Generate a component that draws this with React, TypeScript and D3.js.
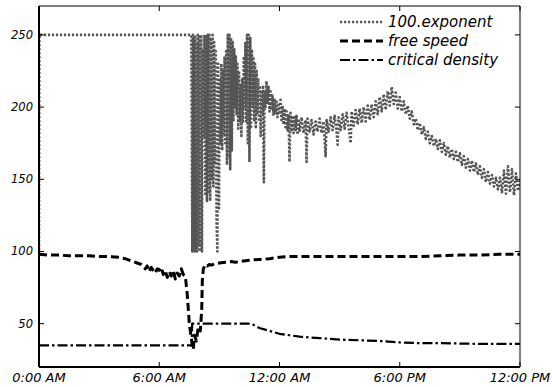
import React from "react";
import * as d3 from "d3";

const xTicks = [0, 6, 12, 18, 24];
const xTickLabels = ["0:00 AM", "6:00 AM", "12:00 AM", "6:00 PM", "12:00 PM"];
const yTicks = [50, 100, 150, 200, 250];
const seriesNames = ["100.exponent", "free speed", "critical density"];

// 100.exponent : [hour, value]
const exponentData: [number, number][] = [
  [0, 98], [0.02, 250], [7.6, 250],
  [7.65, 100], [7.68, 250], [7.71, 105], [7.74, 248], [7.77, 100], [7.8, 250], [7.83, 102], [7.86, 245],
  [7.89, 100], [7.92, 250], [7.95, 104], [7.98, 250], [8.01, 100], [8.04, 247], [8.07, 103], [8.1, 250],
  [8.13, 100], [8.16, 240], [8.22, 180], [8.26, 250], [8.3, 140], [8.34, 250], [8.38, 135],
  [8.42, 250], [8.46, 140], [8.5, 250], [8.54, 135], [8.58, 248], [8.62, 150], [8.66, 250], [8.7, 145],
  [8.74, 245], [8.78, 160], [8.82, 240], [8.86, 120], [8.9, 100], [8.94, 230], [8.98, 130],
  [9.02, 220], [9.06, 175], [9.1, 230], [9.14, 170], [9.18, 225], [9.22, 180], [9.26, 235], [9.3, 175],
  [9.34, 240], [9.38, 160], [9.42, 250], [9.46, 165], [9.5, 250], [9.54, 157], [9.58, 248], [9.62, 170],
  [9.66, 245], [9.7, 190], [9.74, 240], [9.78, 200], [9.82, 235], [9.86, 195], [9.9, 230], [9.94, 185],
  [9.98, 225], [10.02, 190], [10.06, 215], [10.1, 180], [10.14, 220], [10.18, 190], [10.22, 235], [10.26, 200],
  [10.3, 245], [10.34, 190], [10.38, 250], [10.42, 175], [10.46, 250], [10.5, 162], [10.54, 248], [10.58, 185],
  [10.62, 240], [10.66, 200], [10.7, 235], [10.74, 190], [10.78, 230], [10.82, 185], [10.86, 225], [10.9, 195],
  [10.94, 220], [10.98, 190], [11.02, 215], [11.06, 180], [11.1, 210], [11.14, 195], [11.18, 215], [11.22, 148],
  [11.26, 210], [11.3, 200], [11.35, 218], [11.4, 203], [11.45, 214], [11.5, 197], [11.55, 211], [11.6, 198],
  [11.65, 208], [11.7, 194], [11.75, 206], [11.8, 196], [11.85, 205], [11.9, 193], [11.95, 203], [12.0, 195],
  [12.05, 205], [12.1, 191], [12.15, 201], [12.2, 188], [12.25, 199], [12.3, 186], [12.35, 197], [12.4, 184],
  [12.45, 195], [12.5, 162], [12.55, 196], [12.6, 183], [12.65, 194], [12.7, 182], [12.75, 193], [12.8, 184],
  [12.85, 194], [12.9, 181], [12.95, 192], [13.0, 183], [13.1, 193], [13.2, 182], [13.3, 191], [13.35, 162],
  [13.4, 192], [13.5, 183], [13.6, 191], [13.7, 181], [13.8, 190], [13.9, 183], [14.0, 192], [14.1, 182],
  [14.2, 190], [14.3, 166], [14.35, 191], [14.45, 183], [14.55, 193], [14.65, 184], [14.75, 194], [14.85, 183],
  [14.9, 174], [14.95, 193], [15.05, 184], [15.15, 195], [15.25, 185], [15.35, 196], [15.45, 186], [15.55, 175],
  [15.6, 197], [15.7, 187], [15.8, 198], [15.9, 188], [16.0, 199], [16.1, 189], [16.2, 200], [16.3, 190],
  [16.4, 201], [16.5, 191], [16.6, 202], [16.7, 193], [16.8, 204], [16.9, 195], [17.0, 207], [17.1, 197],
  [17.2, 209], [17.3, 198], [17.4, 211], [17.5, 201], [17.6, 214], [17.7, 202], [17.8, 210], [17.9, 199],
  [18.0, 207], [18.1, 197], [18.2, 204], [18.3, 195], [18.4, 201], [18.5, 192], [18.6, 197], [18.7, 188],
  [18.8, 192], [18.9, 184], [19.0, 189], [19.1, 181], [19.2, 186], [19.3, 178], [19.4, 183], [19.5, 175],
  [19.6, 180], [19.7, 173], [19.8, 178], [19.9, 171], [20.0, 177], [20.1, 169], [20.2, 175], [20.3, 167],
  [20.4, 173], [20.5, 165], [20.6, 171], [20.7, 164], [20.8, 169], [20.9, 162], [21.0, 168], [21.1, 160],
  [21.2, 166], [21.3, 158], [21.4, 164], [21.5, 156], [21.6, 163], [21.7, 155], [21.8, 161], [21.9, 153],
  [22.0, 159], [22.1, 151], [22.2, 157], [22.3, 148], [22.4, 155], [22.5, 147], [22.6, 153], [22.7, 145],
  [22.8, 151], [22.9, 143], [23.0, 151], [23.1, 141], [23.2, 156], [23.3, 140], [23.4, 159], [23.5, 141],
  [23.6, 157], [23.7, 139], [23.8, 154], [23.9, 142], [24.0, 150],
];

// free speed : [hour, value]
const freeSpeedData: [number, number][] = [
  [0, 98], [0.5, 97.5], [1, 97.5], [1.5, 97], [2, 97], [2.5, 97], [3, 96.5], [3.5, 96.5], [4, 96],
  [4.3, 95], [4.6, 93.5], [4.9, 92], [5.1, 91], [5.3, 88], [5.4, 90], [5.5, 86], [5.6, 89], [5.8, 85],
  [5.9, 88], [6.0, 87], [6.1, 89], [6.2, 84], [6.3, 87], [6.4, 82], [6.5, 86], [6.6, 83], [6.7, 87],
  [6.8, 81], [6.9, 85], [7.0, 83], [7.1, 88], [7.2, 84], [7.3, 83], [7.4, 70], [7.5, 50], [7.6, 40],
  [7.7, 32], [7.75, 42], [7.85, 38], [7.95, 48], [8.05, 45], [8.12, 60], [8.15, 80], [8.2, 88], [8.3, 91],
  [8.4, 90], [8.5, 91], [8.6, 90.5], [8.8, 91.5], [9.0, 92], [9.3, 92.5], [9.6, 93], [9.8, 92.5], [10.0, 93],
  [10.5, 94], [11, 94.5], [11.5, 95], [12, 96], [12.5, 96.5], [13, 96.5], [14, 96.5], [15, 96.5], [16, 96.5],
  [17, 96.5], [18, 96.5], [19, 96.5], [20, 97], [21, 97.5], [22, 97.5], [23, 98], [24, 98],
];

// critical density : [hour, value]
const criticalDensityData: [number, number][] = [
  [0, 35], [7.62, 35], [7.64, 50], [10.6, 50], [11.0, 47], [11.5, 45], [12, 43], [12.5, 42], [13, 41],
  [14, 40], [15, 39], [16, 38.5], [17, 38], [18, 37], [19, 36.5], [20, 36.5], [22, 36], [24, 36],
];

const W = 552;
const H = 387;
const m = { left: 39, top: 6, right: 32, bottom: 20 };

export default function App() {
  const x = d3.scaleLinear().domain([0, 24]).range([m.left, W - m.right]);
  const y = d3.scaleLinear().domain([20, 270]).range([H - m.bottom, m.top]);
  const line = d3
    .line<[number, number]>()
    .x((d) => x(d[0]))
    .y((d) => y(d[1]));

  const styles = [
    { stroke: "#555", width: 2.6, dash: "2.2,1.8" },
    { stroke: "#000", width: 3, dash: "8,4" },
    { stroke: "#000", width: 2.2, dash: "10,3,2.5,3" },
  ];
  const data = [exponentData, freeSpeedData, criticalDensityData];
  const font = "'DejaVu Sans', Verdana, sans-serif";
  const x0 = m.left, x1 = W - m.right, y0 = H - m.bottom, y1 = m.top;

  return (
    <svg width={W} height={H} style={{ position: "absolute", left: 0, top: 0, background: "#fff" }}>
      <rect x={0} y={0} width={W} height={H} fill="#fff" />
      <defs>
        <clipPath id="clip">
          <rect x={x0} y={y1} width={x1 - x0} height={y0 - y1} />
        </clipPath>
      </defs>
      <g clipPath="url(#clip)">
        {data.map((d, i) => (
          <path
            key={i}
            d={line(d) || ""}
            fill="none"
            stroke={styles[i].stroke}
            strokeWidth={styles[i].width}
            strokeDasharray={styles[i].dash}
            strokeLinejoin="round"
          />
        ))}
      </g>
      <line x1={x0} x2={x1} y1={y1} y2={y1} stroke="#000" strokeWidth={1} />
      <line x1={x1} x2={x1} y1={y1} y2={y0} stroke="#000" strokeWidth={1} />
      <line x1={x0} x2={x0} y1={y1} y2={y0} stroke="#000" strokeWidth={2} />
      <line x1={x0} x2={x1} y1={y0} y2={y0} stroke="#000" strokeWidth={2} />
      {xTicks.map((t, i) => (
        <g key={"x" + i}>
          <line x1={x(t)} x2={x(t)} y1={y0} y2={y0 - 5} stroke="#000" />
          <line x1={x(t)} x2={x(t)} y1={y1} y2={y1 + 5} stroke="#000" />
          <text x={x(t)} y={382} textAnchor="middle" fontFamily={font} fontStyle="italic" fontSize={13}>
            {xTickLabels[i]}
          </text>
        </g>
      ))}
      {yTicks.map((t, i) => (
        <g key={"y" + i}>
          <line x1={x0} x2={x0 + 5} y1={y(t)} y2={y(t)} stroke="#000" />
          <line x1={x1} x2={x1 - 5} y1={y(t)} y2={y(t)} stroke="#000" />
          <text x={33} y={y(t) + 4} textAnchor="end" fontFamily={font} fontStyle="italic" fontSize={11.5}>
            {t}
          </text>
        </g>
      ))}
      {seriesNames.map((n, i) => {
        const ly = 22 + i * 19;
        return (
          <g key={"l" + i}>
            <line x1={340} x2={383} y1={ly} y2={ly} stroke={styles[i].stroke} strokeWidth={styles[i].width} strokeDasharray={styles[i].dash} />
            <text x={388} y={ly + 5} fontFamily={font} fontStyle="italic" fontSize={15}>
              {n}
            </text>
          </g>
        );
      })}
    </svg>
  );
}
